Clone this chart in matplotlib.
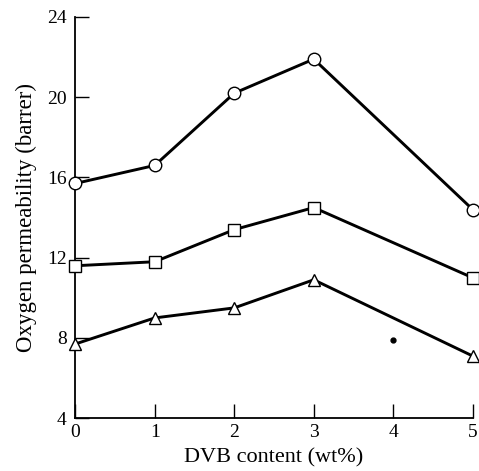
import numpy as np
import matplotlib
matplotlib.use('Agg')
import matplotlib.pyplot as plt

plt.rcParams['font.family'] = ['Liberation Serif', 'DejaVu Serif']

dvb = [0, 1, 2, 3, 5]
perm_circle = [15.7, 16.6, 20.2, 21.9, 14.4]
perm_square = [11.6, 11.8, 13.4, 14.5, 11.0]
perm_triangle = [7.7, 9.0, 9.5, 10.9, 7.1]
stray_x = [4]
stray_y = [7.9]

yticks = [4, 8, 12, 16, 20, 24]
xticks = [0, 1, 2, 3, 4, 5]


def main():
	fig = plt.figure(figsize=(4.79, 4.71), dpi=100)
	ax = fig.add_axes([0.157, 0.112, 0.83, 0.852])

	style = dict(color='black', lw=2.1, mfc='white', mec='black', mew=1.0, clip_on=False, zorder=3)
	ax.plot(dvb, perm_circle, marker='o', ms=9, **style)
	ax.plot(dvb, perm_square, marker='s', ms=8, **style)
	ax.plot(dvb, perm_triangle, marker='^', ms=9, **style)
	ax.plot(stray_x, stray_y, 'o', color='black', ms=3.5)

	ax.set_xlim(0, 5)
	ax.set_ylim(4, 24)
	ax.set_xticks(xticks)
	ax.set_yticks(yticks)
	ax.spines['top'].set_visible(False)
	ax.spines['right'].set_visible(False)
	ax.spines['left'].set_linewidth(1.3)
	ax.spines['bottom'].set_linewidth(1.3)
	ax.tick_params(direction='in', length=10, width=1.0, labelsize=14, pad=4)
	ax.tick_params(axis='y', pad=6)

	ax.set_xlabel('DVB content (wt%)', fontsize=16, labelpad=5)
	ax.set_ylabel('Oxygen permeability (barrer)', fontsize=16.5, labelpad=7)

	fig.savefig('out.png', dpi=100)


if __name__ == '__main__':
	main()
